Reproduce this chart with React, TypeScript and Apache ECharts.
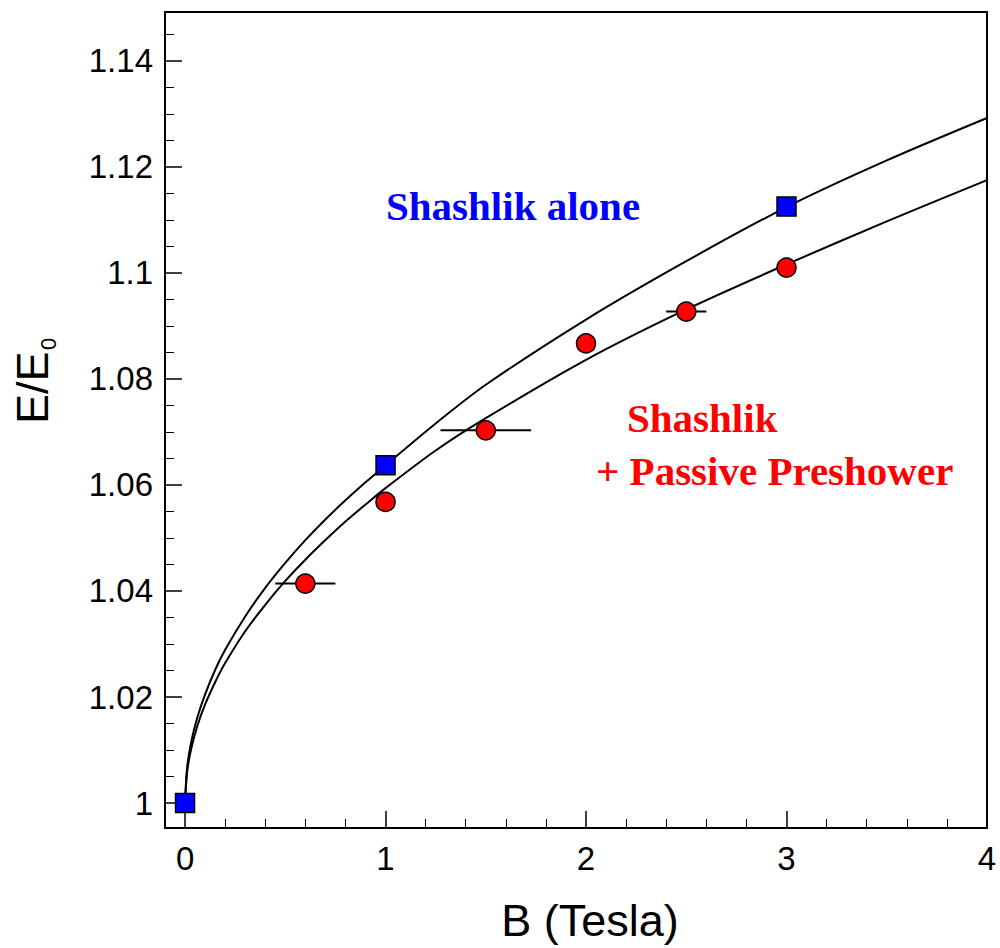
import React, { useEffect, useRef } from "react";
import * as echarts from "echarts";

// Tick positions
const xMajorTicks = [0, 1, 2, 3, 4];
const xMinorTicks = [0.2, 0.4, 0.6, 0.8, 1.2, 1.4, 1.6, 1.8, 2.2, 2.4, 2.6, 2.8, 3.2, 3.4, 3.6, 3.8];
const yMajorTicks = [1, 1.02, 1.04, 1.06, 1.08, 1.1, 1.12, 1.14];
const yMinorTicks = [1.005, 1.01, 1.015, 1.025, 1.03, 1.035, 1.045, 1.05, 1.055, 1.065, 1.07, 1.075, 1.085, 1.09, 1.095, 1.105, 1.11, 1.115, 1.125, 1.13, 1.135, 1.145];

// Shashlik alone (blue squares)
const blueX = [0, 1, 3];
const blueY = [1.0, 1.0637, 1.1125];

// Shashlik + Passive Preshower (red circles) with horizontal errors
const redX = [0.6, 1, 1.5, 2, 2.5, 3];
const redY = [1.0414, 1.0568, 1.0703, 1.0867, 1.0927, 1.101];
const redXErr = [0.15, 0, 0.226, 0, 0.1, 0];

// Fitted curves
const upperCurveX = [0, 0.01, 0.03, 0.06, 0.1, 0.15, 0.2, 0.3, 0.4, 0.5, 0.6, 0.7, 0.8, 0.9, 1, 1.25, 1.5, 2, 2.5, 3, 3.5, 4];
const upperCurveY = [1.0, 1.0066, 1.0114, 1.016, 1.0205, 1.0251, 1.0289, 1.0352, 1.0406, 1.0453, 1.0496, 1.0535, 1.0571, 1.0605, 1.0637, 1.0716, 1.0789, 1.0912, 1.1022, 1.1124, 1.1212, 1.1292];
const lowerCurveX = [0, 0.01, 0.03, 0.06, 0.1, 0.15, 0.2, 0.3, 0.4, 0.5, 0.6, 0.7, 0.8, 0.9, 1, 1.25, 1.5, 2, 2.5, 3, 3.5, 4];
const lowerCurveY = [1.0, 1.0058, 1.0101, 1.0144, 1.0186, 1.0228, 1.0264, 1.0324, 1.0374, 1.0419, 1.0459, 1.0496, 1.0531, 1.0563, 1.0594, 1.0665, 1.0726, 1.0836, 1.0931, 1.1016, 1.1097, 1.1175];

const X_MIN = -0.1;
const X_MAX = 4;
const Y_MIN = 0.9953;
const Y_MAX = 1.1492;

const SANS = "'Liberation Sans', Arial, sans-serif";
const SERIF = "'Liberation Serif', 'Times New Roman', serif";

export default function App() {
  const ref = useRef<HTMLDivElement>(null);

  useEffect(() => {
    if (!ref.current) return;
    const chart = echarts.init(ref.current, undefined, { renderer: "svg" });

    const gridRect = { left: 165, right: 13, top: 12, bottom: 120 };

    const option: any = {
      animation: false,
      backgroundColor: "#fff",
      grid: [
        { ...gridRect, show: true, borderColor: "#000", borderWidth: 2, backgroundColor: "transparent", containLabel: false },
        { ...gridRect, show: false, containLabel: false },
      ],
      xAxis: [
        {
          type: "value",
          gridIndex: 0,
          min: X_MIN,
          max: X_MAX,
          position: "bottom",
          axisLine: { show: false, onZero: false },
          splitLine: { show: false },
          axisTick: {
            show: true,
            inside: true,
            length: 17,
            customValues: xMajorTicks,
            lineStyle: { color: "#000", width: 1.5 },
          },
          axisLabel: {
            customValues: xMajorTicks,
            fontSize: 33,
            color: "#000",
            fontFamily: SANS,
            margin: 14,
            formatter: (v: number) => String(v),
          },
        },
        {
          type: "value",
          gridIndex: 1,
          min: X_MIN,
          max: X_MAX,
          position: "bottom",
          axisLine: { show: false, onZero: false },
          splitLine: { show: false },
          axisTick: {
            show: true,
            inside: true,
            length: 9,
            customValues: xMinorTicks,
            lineStyle: { color: "#000", width: 1 },
          },
          axisLabel: { show: false },
        },
      ],
      yAxis: [
        {
          type: "value",
          gridIndex: 0,
          min: Y_MIN,
          max: Y_MAX,
          position: "left",
          axisLine: { show: false, onZero: false },
          splitLine: { show: false },
          axisTick: {
            show: true,
            inside: true,
            length: 17,
            customValues: yMajorTicks,
            lineStyle: { color: "#000", width: 1.5 },
          },
          axisLabel: {
            customValues: yMajorTicks,
            fontSize: 33,
            color: "#000",
            fontFamily: SANS,
            margin: 12,
            formatter: (v: number) => String(parseFloat(v.toFixed(4))),
          },
        },
        {
          type: "value",
          gridIndex: 1,
          min: Y_MIN,
          max: Y_MAX,
          position: "left",
          axisLine: { show: false, onZero: false },
          splitLine: { show: false },
          axisTick: {
            show: true,
            inside: true,
            length: 9,
            customValues: yMinorTicks,
            lineStyle: { color: "#000", width: 1 },
          },
          axisLabel: { show: false },
        },
      ],
      series: [
        {
          type: "line",
          name: "upper fit",
          xAxisIndex: 0,
          yAxisIndex: 0,
          data: upperCurveX.map((x, i) => [x, upperCurveY[i]]),
          showSymbol: false,
          symbol: "none",
          smooth: 0.3,
          lineStyle: { color: "#000", width: 2 },
          z: 2,
          silent: true,
        },
        {
          type: "line",
          name: "lower fit",
          xAxisIndex: 0,
          yAxisIndex: 0,
          data: lowerCurveX.map((x, i) => [x, lowerCurveY[i]]),
          showSymbol: false,
          symbol: "none",
          smooth: 0.3,
          lineStyle: { color: "#000", width: 2 },
          z: 2,
          silent: true,
        },
        {
          type: "custom",
          name: "x errors",
          xAxisIndex: 0,
          yAxisIndex: 0,
          data: redX.map((x, i) => [x, redY[i], redXErr[i]]),
          z: 3,
          renderItem: (params: any, api: any) => {
            const x = api.value(0);
            const y = api.value(1);
            const e = api.value(2);
            if (!e) return { type: "group", children: [] };
            const p1 = api.coord([x - e, y]);
            const p2 = api.coord([x + e, y]);
            return {
              type: "line",
              shape: { x1: p1[0], y1: p1[1], x2: p2[0], y2: p2[1] },
              style: { stroke: "#000", lineWidth: 2 },
            };
          },
        },
        {
          type: "scatter",
          name: "Shashlik + Passive Preshower",
          xAxisIndex: 0,
          yAxisIndex: 0,
          data: redX.map((x, i) => [x, redY[i]]),
          symbol: "circle",
          symbolSize: 19,
          itemStyle: { color: "#ff0000", borderColor: "#000", borderWidth: 1.5, opacity: 1 },
          z: 5,
        },
        {
          type: "scatter",
          name: "Shashlik alone",
          xAxisIndex: 0,
          yAxisIndex: 0,
          data: blueX.map((x, i) => [x, blueY[i]]),
          symbol: "rect",
          symbolSize: 19,
          itemStyle: { color: "#0000ff", borderColor: "#000", borderWidth: 1.5, opacity: 1 },
          z: 5,
        },
      ],
      graphic: [
        {
          type: "text",
          x: 386,
          y: 206,
          z: 10,
          style: {
            text: "Shashlik alone",
            fill: "#0000ff",
            font: `bold 41px ${SERIF}`,
            align: "left",
            verticalAlign: "middle",
          },
        },
        {
          type: "text",
          x: 627,
          y: 418,
          z: 10,
          style: {
            text: "Shashlik",
            fill: "#ff0000",
            font: `bold 41px ${SERIF}`,
            align: "left",
            verticalAlign: "middle",
          },
        },
        {
          type: "text",
          x: 596,
          y: 471,
          z: 10,
          style: {
            text: "+ Passive Preshower",
            fill: "#ff0000",
            font: `bold 41px ${SERIF}`,
            align: "left",
            verticalAlign: "middle",
          },
        },
        {
          type: "text",
          x: 590,
          y: 920,
          z: 10,
          style: {
            text: "B (Tesla)",
            fill: "#000",
            font: `45px ${SANS}`,
            align: "center",
            verticalAlign: "middle",
          },
        },
        {
          type: "text",
          x: 32,
          y: 424,
          rotation: Math.PI / 2,
          z: 10,
          style: {
            text: "E/E",
            fill: "#000",
            font: `45px ${SANS}`,
            align: "left",
            verticalAlign: "middle",
          },
        },
        {
          type: "text",
          x: 48,
          y: 350,
          rotation: Math.PI / 2,
          z: 10,
          style: {
            text: "0",
            fill: "#000",
            font: `22px ${SANS}`,
            align: "left",
            verticalAlign: "middle",
          },
        },
      ],
    };

    chart.setOption(option);
    return () => {
      chart.dispose();
    };
  }, []);

  return (
    <div
      ref={ref}
      style={{ position: "absolute", left: 0, top: 0, width: 1000, height: 948 }}
    />
  );
}
